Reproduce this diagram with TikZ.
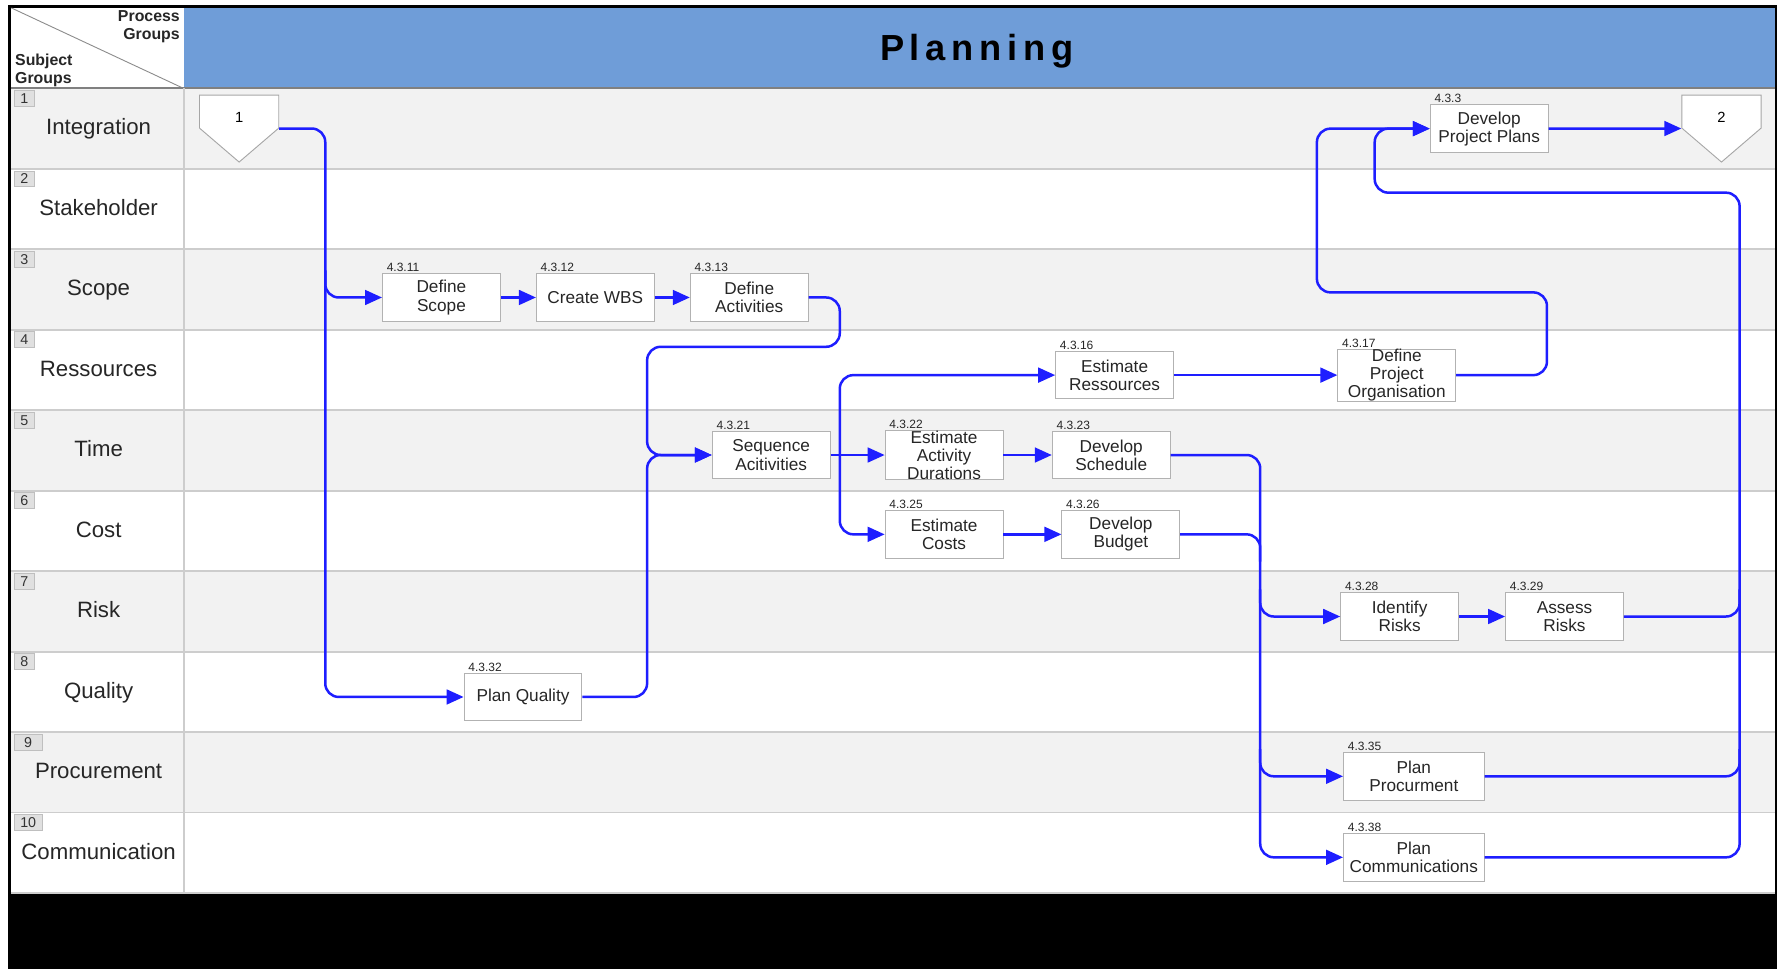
\documentclass[tikz,border=0pt]{standalone}
\usepackage{fontspec}
\setmainfont{Liberation Sans}
\newfontfamily\spacedfont[LetterSpace=16]{Liberation Sans}
\usepackage{tikz}
\usetikzlibrary{arrows.meta,positioning,calc}
\definecolor{PMIblue}{HTML}{6F9DD8}
\definecolor{LaneGray}{HTML}{F2F2F2}
\definecolor{RuleGray}{HTML}{CDCDCD}
\definecolor{FlowBlue}{HTML}{1E1EFF}
\tikzset{
  pm/process/.style={draw=black!30, fill=white, minimum width=52pt, minimum height=21pt, inner sep=1pt, align=center, font=\fontsize{7.6}{8}\selectfont, text=black!85},
  pm/wide/.style={pm/process, minimum width=62pt},
  pm/tall/.style={pm/process, inner ysep=0pt},
  pm/num/.style={anchor=south west, inner sep=0.4pt, xshift=1.5pt, font=\fontsize{5.3}{6}\selectfont, text=black!85},
  pm/lane/.style={font=\fontsize{9.8}{11}\selectfont, anchor=base, text=black!85},
  pm/tag/.style={draw=black!25, fill=black!12, anchor=north west, inner sep=0.8pt, minimum height=7pt, minimum width=9pt, font=\fontsize{6.3}{7}\selectfont, text=black!80},
  pm/corner/.style={font=\bfseries\fontsize{7}{8}\selectfont, inner sep=0pt, text=black!85},
  pm/offpage/.style={draw=black!35, fill=white, line join=miter},
  pm/offtext/.style={minimum width=35pt, minimum height=14.5pt, inner sep=0pt, font=\fontsize{6.5}{7}\selectfont, text height=10pt, text depth=0pt},
  pm/rule/.style={draw=RuleGray, line width=0.8pt},
  pm/line/.style={draw=FlowBlue, line width=1.1pt, rounded corners=6pt},
  pm/flow/.style={pm/line, -{Triangle[length=7.5pt,width=6.5pt]}}
}
% off-page connector: name, centre, text
\newcommand{\offpage}[3]{%
  \draw[pm/offpage] ($(#2)+(-35,-14.5)$) -- ++(70,0) -- ++(0,29) -- ++(-35,30) -- ++(-35,-30) -- cycle;
  \node[pm/offtext] (#1) at (#2) {#3};}

\begin{document}
\begin{tikzpicture}[x=0.5pt,y=-0.5pt]
  \useasboundingbox (0,0) rectangle (1568,855);
  \fill[white] (0,0) rectangle (1568,855);
  \fill[black] (7,4) rectangle (1568,855);
  \fill[white] (10,7) rectangle (1566,788);

  % header
  \fill[PMIblue] (162,7) rectangle (1566,78);
  \draw[black!45] (10,7) -- (162,78);
  \node[font=\spacedfont\bfseries\fontsize{16}{18}\selectfont] (title) at (862,45) {Planning};
  \node[pm/corner, anchor=north east, align=right] (pg) at (159,9) {Process\\Groups};
  \node[pm/corner, anchor=south west, align=left] (sg) at (13,77) {Subject\\Groups};

  % lanes
  \foreach \lab/\col/\tw [count=\i] in {Integration/LaneGray/9, Stakeholder/white/9, Scope/LaneGray/9, Ressources/white/9, Time/LaneGray/9, Cost/white/9, Risk/LaneGray/9, Quality/white/9, Procurement/LaneGray/12.5, Communication/white/12.5}{
    \pgfmathsetmacro{\yt}{78+(\i-1)*71}
    \fill[\col] (10,\yt) rectangle (1566,\yt+71);
    \draw[pm/rule] (10,\yt) -- (1566,\yt);
    \node[pm/lane] (lane\i) at (87,\yt+41) {\lab};
    \node[pm/tag, minimum width=\tw pt] (tag\i) at (12,\yt+1.5) {\i};
  }
  \draw[black!50, line width=0.8pt] (10,78) -- (1566,78);
  \draw[pm/rule] (10,788) -- (1566,788);
  \draw[pm/rule] (162,78) -- (162,788);

  % processes
  \offpage{off1}{211,98.5}{1}
  \offpage{off2}{1519,98.5}{2}
  \node[pm/process, label={[pm/num]north west:4.3.3}] (dplan) at (1314,113.5) {Develop\\Project Plans};
  \node[pm/process, label={[pm/num]north west:4.3.11}] (dscope) at (389.5,262.5) {Define\\Scope};
  \node[pm/process, right=15.5pt of dscope, label={[pm/num]north west:4.3.12}] (wbs) {Create WBS};
  \node[pm/process, right=15.5pt of wbs, label={[pm/num]north west:4.3.13}] (dact) {Define\\Activities};
  \node[pm/process, label={[pm/num]north west:4.3.16}] (eres) at (983.5,331) {Estimate\\Ressources};
  \node[pm/tall, label={[pm/num]north west:4.3.17}] (dorg) at (1232.5,331) {Define\\Project\\Organisation};
  \node[pm/process, label={[pm/num]north west:4.3.21}] (seq) at (680.5,401.5) {Sequence\\Acitivities};
  \node[pm/tall, label={[pm/num]north west:4.3.22}] (edur) at (833,401.5) {Estimate\\Activity\\Durations};
  \node[pm/process, label={[pm/num]north west:4.3.23}] (dsched) at (980.5,401.5) {Develop\\Schedule};
  \node[pm/process, label={[pm/num]north west:4.3.25}] (ecost) at (833,471.5) {Estimate\\Costs};
  \node[pm/process, label={[pm/num]north west:4.3.26}] (dbudg) at (989,471.5) {Develop\\Budget};
  \node[pm/process, label={[pm/num]north west:4.3.28}] (irisk) at (1235,544) {Identify\\Risks};
  \node[pm/process, label={[pm/num]north west:4.3.29}] (arisk) at (1380.5,544) {Assess\\Risks};
  \node[pm/process, label={[pm/num]north west:4.3.32}] (qual) at (461.5,615) {Plan Quality};
  \node[pm/wide, label={[pm/num]north west:4.3.35}] (proc) at (1247.5,685) {Plan\\Procurment};
  \node[pm/wide, label={[pm/num]north west:4.3.38}] (comm) at (1247.5,756.5) {Plan\\Communications};

  % routing columns
  \coordinate (bus1) at (287,0);
  \coordinate (bus2) at (571,0);
  \coordinate (bus3) at (741,0);
  \coordinate (bus4) at (1162,0);
  \coordinate (bus5) at (1112,0);
  \coordinate (bus6) at (1535,0);
  \coordinate (bus7) at (1213,0);
  \coordinate (k1) at (741,306);
  \coordinate (k2) at (1365,258);
  \coordinate (k3) at (1535,170);

  % flows
  \draw[pm/flow] (off1.south east) -| (bus1 |- qual) -- (qual);
  \draw[pm/flow] ($(bus1 |- dscope)+(0,-24)$) |- (dscope);
  \draw[pm/flow] (dscope) -- (wbs);
  \draw[pm/flow] (wbs) -- (dact);
  \draw[pm/flow] (dact) -| (k1) -| (bus2 |- seq) -- (seq);
  \draw[pm/flow] (qual) -| (bus2 |- seq) -- (seq);
  \draw[pm/flow] (seq) -- (edur);
  \draw[pm/flow] (bus3 |- seq) |- (eres);
  \draw[pm/flow] (bus3 |- seq) |- (ecost);
  \draw[pm/flow] (eres) -- (dorg);
  \draw[pm/flow] (dorg) -| (k2) -| (bus4 |- dplan) -- (dplan);
  \draw[pm/flow] (edur) -- (dsched);
  \draw[pm/flow] (ecost) -- (dbudg);
  \draw[pm/flow] (dsched) -| (bus5 |- comm) -- (comm);
  \draw[pm/line] (dbudg) -| ($(bus5 |- dbudg)+(0,24)$);
  \draw[pm/flow] ($(bus5 |- irisk)+(0,-24)$) |- (irisk);
  \draw[pm/flow] ($(bus5 |- proc)+(0,-24)$) |- (proc);
  \draw[pm/flow] (irisk) -- (arisk);
  \draw[pm/flow] (comm) -| (k3) -| (bus7 |- dplan) -- (dplan);
  \draw[pm/line] (arisk) -| ($(bus6 |- arisk)+(0,-24)$);
  \draw[pm/line] (proc) -| ($(bus6 |- proc)+(0,-24)$);
  \draw[pm/flow] (dplan) -- (off2.south west);
\end{tikzpicture}
\end{document}
